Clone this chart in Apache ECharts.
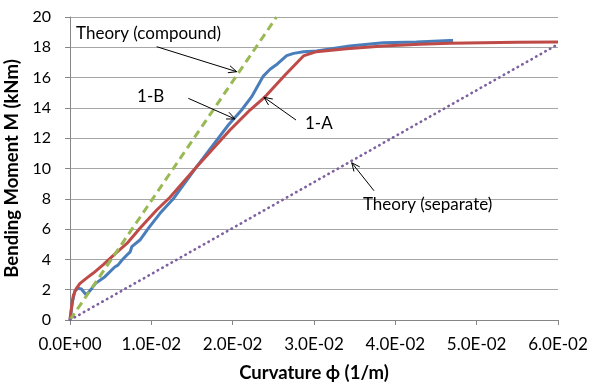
<!DOCTYPE html>
<html>
<head>
<meta charset="utf-8">
<script src="https://cdn.jsdelivr.net/npm/echarts@6/dist/echarts.min.js"></script>
<style>
  html, body { margin: 0; padding: 0; background: #ffffff; }
  #chart { width: 590px; height: 385px; }
</style>
</head>
<body>
<div id="chart"></div>
<script>
// Moment–curvature response of specimens 1-A and 1-B with two theoretical stiffness lines
const FONT = 'Lato, "Open Sans", sans-serif';

// Specimen 1-A: curvature (1/m) and bending moment (kNm)
const curvature1A = [0, 0.0002, 0.0004, 0.0007, 0.0012, 0.0020, 0.00287, 0.0041, 0.0055, 0.0070,
  0.0086, 0.01066, 0.0123, 0.01558, 0.01967, 0.02213, 0.02377, 0.02418, 0.0265, 0.0287,
  0.0303, 0.0340, 0.0385, 0.0430, 0.0467, 0.0508, 0.0550, 0.0600];
const moment1A = [0, 0.9, 1.6, 2.0, 2.4, 2.75, 3.1, 3.65, 4.35, 5.05,
  6.05, 7.26, 8.1, 10.12, 12.54, 13.86, 14.63, 14.85, 16.2, 17.43,
  17.71, 17.9, 18.09, 18.2, 18.26, 18.3, 18.33, 18.35];

// Specimen 1-B
const curvature1B = [0, 0.0003, 0.0006, 0.0010, 0.0014, 0.0020, 0.0027, 0.0031, 0.0043, 0.0055,
  0.0059, 0.0061, 0.0064, 0.0070, 0.0074, 0.0076, 0.0086, 0.00963, 0.01107, 0.0127,
  0.01558, 0.01947, 0.0211, 0.02234, 0.02377, 0.0246, 0.0255, 0.02664, 0.0275, 0.0287,
  0.0303, 0.0344, 0.0385, 0.0426, 0.0467, 0.0471];
const moment1B = [0, 1.2, 1.9, 2.1, 2.05, 1.65, 2.1, 2.4, 2.86, 3.5,
  3.62, 3.65, 3.96, 4.29, 4.5, 4.84, 5.28, 6.05, 7.04, 8.0,
  10.12, 12.87, 13.86, 14.74, 16.1, 16.55, 16.9, 17.45, 17.6, 17.7,
  17.75, 18.09, 18.3, 18.35, 18.45, 18.45];

// Theoretical lines
const curvatureCompound = [0, 0.0254];
const momentCompound = [0, 20];
const curvatureSeparate = [0, 0.06];
const momentSeparate = [0, 18.2];

// Axis ranges
const xRange = [0, 0.06, 0.01];
const yRange = [0, 20, 2];

// Callouts: text, text anchor (left-middle), arrow tail, arrow head — in data units
const noteTexts = ['Theory (compound)', '1-B', '1-A', 'Theory (separate)'];
const noteAnchors = [[0.00074, 18.94], [0.00824, 14.72], [0.02889, 12.94], [0.03602, 7.59]];
const arrowTails = [[0.01066, 18.04], [0.01455, 14.63], [0.02779, 13.2], [0.03738, 8.53]];
const arrowHeads = [[0.0205, 16.39], [0.02029, 13.27], [0.02385, 14.7], [0.03464, 10.38]];

const zip = (xs, ys) => xs.map((x, i) => [x, ys[i]]);

function sciLabel(v) {
  const [m, e] = v.toExponential(1).split('e');
  const sign = e[0] === '-' ? '-' : '+';
  const digits = e.replace(/[+-]/, '').padStart(2, '0');
  return m + 'E' + sign + digits;
}

const chart = echarts.init(document.getElementById('chart'), null, { renderer: 'canvas' });

chart.setOption({
  animation: false,
  backgroundColor: '#ffffff',
  grid: { left: 70, right: 32, top: 17, bottom: 65, containLabel: false, outerBoundsMode: 'none' },
  xAxis: {
    type: 'value', min: xRange[0], max: xRange[1], interval: xRange[2],
    name: 'Curvature ϕ (1/m)', nameLocation: 'middle', nameGap: 44,
    nameTextStyle: { fontFamily: FONT, fontSize: 18.5, fontWeight: 'bold', color: '#000' },
    axisLine: { show: true, onZero: false, lineStyle: { color: '#868686', width: 1 } },
    axisTick: { show: true, length: 5, inside: false, lineStyle: { color: '#868686' } },
    axisLabel: {
      fontFamily: FONT, fontSize: 17, color: '#000', margin: 16, formatter: sciLabel,
      hideOverlap: false
    },
    splitLine: { show: false }
  },
  yAxis: {
    type: 'value', min: yRange[0], max: yRange[1], interval: yRange[2],
    name: 'Bending Moment M (kNm)', nameLocation: 'middle', nameGap: 43,
    nameTextStyle: { fontFamily: FONT, fontSize: 18.5, fontWeight: 'bold', color: '#000' },
    axisLine: { show: true, lineStyle: { color: '#868686', width: 1 } },
    axisTick: { show: true, length: 5, inside: false, lineStyle: { color: '#868686' } },
    axisLabel: { fontFamily: FONT, fontSize: 16, color: '#000', margin: 19, hideOverlap: false },
    splitLine: { show: true, lineStyle: { color: '#a6a6a6', width: 1 } }
  },
  series: [
    {
      name: '1-B', type: 'line', data: zip(curvature1B, moment1B),
      showSymbol: false, symbol: 'none', smooth: false,
      lineStyle: { color: '#4a7ebb', width: 3, join: 'round' }, z: 2
    },
    {
      name: '1-A', type: 'line', data: zip(curvature1A, moment1A),
      showSymbol: false, symbol: 'none', smooth: false,
      lineStyle: { color: '#be4b48', width: 3, join: 'round' }, z: 3
    },
    {
      name: 'Theory (compound)', type: 'line', data: zip(curvatureCompound, momentCompound),
      showSymbol: false, symbol: 'none',
      lineStyle: { color: '#98b954', width: 3, type: [8, 5], cap: 'butt' }, z: 4
    },
    {
      name: 'Theory (separate)', type: 'line', data: zip(curvatureSeparate, momentSeparate),
      showSymbol: false, symbol: 'none',
      lineStyle: { color: '#7d60a0', width: 2.6, type: [0.5, 4.8], cap: 'round' }, z: 4
    }
  ]
});

// Callout texts and open-headed arrows, placed through the grid's coordinate system
function drawCallouts() {
  const els = [];
  const toPx = (p) => chart.convertToPixel({ gridIndex: 0 }, p);
  noteTexts.forEach((t, i) => {
    const a = toPx(noteAnchors[i]);
    els.push({
      type: 'text', x: a[0], y: a[1], z: 10,
      style: { text: t, font: '17px ' + FONT, fill: '#000', align: 'left', verticalAlign: 'middle' }
    });
    const s = toPx(arrowTails[i]);
    const h = toPx(arrowHeads[i]);
    const ang = Math.atan2(h[1] - s[1], h[0] - s[0]);
    const len = 9, spread = 0.42;
    const p1 = [h[0] - len * Math.cos(ang - spread), h[1] - len * Math.sin(ang - spread)];
    const p2 = [h[0] - len * Math.cos(ang + spread), h[1] - len * Math.sin(ang + spread)];
    els.push({
      type: 'line', z: 10,
      shape: { x1: s[0], y1: s[1], x2: h[0], y2: h[1] },
      style: { stroke: '#000', lineWidth: 1 }
    });
    els.push({
      type: 'polyline', z: 10,
      shape: { points: [p1, h, p2] },
      style: { stroke: '#000', lineWidth: 1, fill: null }
    });
  });
  chart.setOption({ graphic: { elements: els } });
}
drawCallouts();
</script>
</body>
</html>
